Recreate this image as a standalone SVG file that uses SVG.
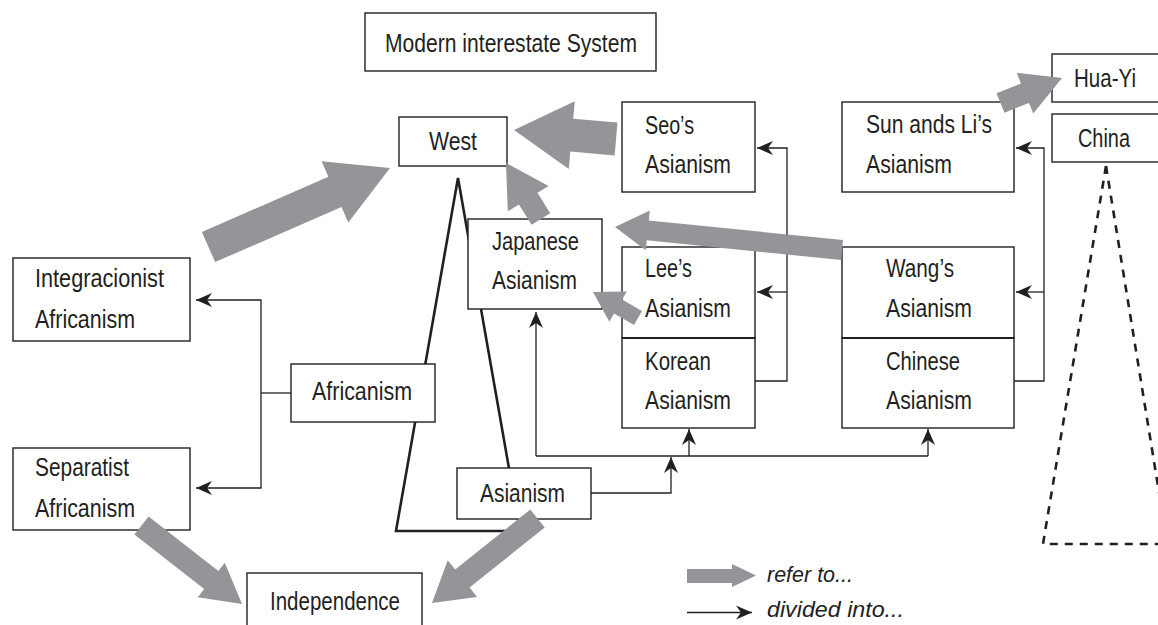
<svg xmlns="http://www.w3.org/2000/svg" width="1158" height="625" viewBox="0 0 1158 625">
  <style>
    .box { fill: #ffffff; stroke: #231f20; stroke-width: 1.4; }
    .t { font-family: "Liberation Sans Narrow", "Liberation Sans", Arial, sans-serif; font-size: 25px; fill: #231f20; }
    .lg { font-family: "Liberation Sans", Arial, sans-serif; font-style: italic; font-size: 22px; fill: #231f20; }
    .link { fill: none; stroke: #231f20; stroke-width: 1.3; }
    .ref { fill: #939598; stroke: none; }
    .tri { fill: none; stroke: #231f20; stroke-width: 2.6; stroke-linejoin: miter; }
    .dash { fill: none; stroke: #231f20; stroke-width: 2.6; stroke-dasharray: 8 7; }
  </style>
  <defs>
    <marker id="tip" viewBox="-17 -8 17 16" refX="0" refY="0" markerWidth="17" markerHeight="16" markerUnits="userSpaceOnUse" orient="auto">
      <path d="M0,0 L-16,-7 L-11,0 L-16,7 Z" fill="#231f20"/>
    </marker>
  </defs>

  <rect width="1158" height="625" fill="#ffffff"/>

  <!-- background shapes: solid triangle and dashed triangle -->
  <g id="shapes">
    <polygon class="tri" points="458,178 396,531 520,531"/>
    <path class="dash" d="M1106,166 L1043,544 L1175,544"/>
    <path class="dash" d="M1106,166 L1170,560"/>
  </g>

  <g id="node-modern">
    <rect class="box" x="365" y="13" width="291" height="58"/>
    <text class="t" x="385" y="52" textLength="252" lengthAdjust="spacingAndGlyphs">Modern interestate System</text>
  </g>
  <g id="node-west">
    <rect class="box" x="399" y="117" width="108" height="49"/>
    <text class="t" x="429" y="150" textLength="48" lengthAdjust="spacingAndGlyphs">West</text>
  </g>
  <g id="node-seo">
    <rect class="box" x="622" y="102" width="133" height="90"/>
    <text class="t" x="645" y="134" textLength="49" lengthAdjust="spacingAndGlyphs">Seo’s</text>
    <text class="t" x="645" y="173" textLength="86" lengthAdjust="spacingAndGlyphs">Asianism</text>
  </g>
  <g id="node-sunli">
    <rect class="box" x="842" y="102" width="172" height="90"/>
    <text class="t" x="866" y="133" textLength="126" lengthAdjust="spacingAndGlyphs">Sun ands Li’s</text>
    <text class="t" x="866" y="173" textLength="86" lengthAdjust="spacingAndGlyphs">Asianism</text>
  </g>
  <g id="node-huayi">
    <rect class="box" x="1052" y="54" width="130" height="48"/>
    <text class="t" x="1074" y="87" textLength="62" lengthAdjust="spacingAndGlyphs">Hua-Yi</text>
  </g>
  <g id="node-china">
    <rect class="box" x="1052" y="114" width="130" height="48"/>
    <text class="t" x="1078" y="147" textLength="52" lengthAdjust="spacingAndGlyphs">China</text>
  </g>
  <g id="node-japanese">
    <rect class="box" x="468" y="219" width="134" height="90"/>
    <text class="t" x="492" y="250" textLength="87" lengthAdjust="spacingAndGlyphs">Japanese</text>
    <text class="t" x="492" y="289" textLength="85" lengthAdjust="spacingAndGlyphs">Asianism</text>
  </g>
  <g id="node-lee">
    <rect class="box" x="622" y="247" width="133" height="91"/>
    <text class="t" x="645" y="277" textLength="47" lengthAdjust="spacingAndGlyphs">Lee’s</text>
    <text class="t" x="645" y="317" textLength="86" lengthAdjust="spacingAndGlyphs">Asianism</text>
  </g>
  <g id="node-korean">
    <rect class="box" x="622" y="338" width="133" height="90"/>
    <line x1="622" y1="338" x2="755" y2="338" stroke="#231f20" stroke-width="2.2"/>
    <text class="t" x="645" y="370" textLength="66" lengthAdjust="spacingAndGlyphs">Korean</text>
    <text class="t" x="645" y="409" textLength="86" lengthAdjust="spacingAndGlyphs">Asianism</text>
  </g>
  <g id="node-wang">
    <rect class="box" x="842" y="247" width="172" height="91"/>
    <text class="t" x="886" y="277" textLength="68" lengthAdjust="spacingAndGlyphs">Wang’s</text>
    <text class="t" x="886" y="317" textLength="86" lengthAdjust="spacingAndGlyphs">Asianism</text>
  </g>
  <g id="node-chinese">
    <rect class="box" x="842" y="338" width="172" height="90"/>
    <line x1="842" y1="338" x2="1014" y2="338" stroke="#231f20" stroke-width="2.2"/>
    <text class="t" x="886" y="370" textLength="74" lengthAdjust="spacingAndGlyphs">Chinese</text>
    <text class="t" x="886" y="409" textLength="86" lengthAdjust="spacingAndGlyphs">Asianism</text>
  </g>
  <g id="node-integracionist">
    <rect class="box" x="13" y="258" width="177" height="83"/>
    <text class="t" x="35" y="287" textLength="129" lengthAdjust="spacingAndGlyphs">Integracionist</text>
    <text class="t" x="35" y="328" textLength="100" lengthAdjust="spacingAndGlyphs">Africanism</text>
  </g>
  <g id="node-separatist">
    <rect class="box" x="13" y="448" width="177" height="82"/>
    <text class="t" x="35" y="476" textLength="94" lengthAdjust="spacingAndGlyphs">Separatist</text>
    <text class="t" x="35" y="517" textLength="100" lengthAdjust="spacingAndGlyphs">Africanism</text>
  </g>
  <g id="node-africanism">
    <rect class="box" x="291" y="364" width="144" height="58"/>
    <text class="t" x="312" y="400" textLength="100" lengthAdjust="spacingAndGlyphs">Africanism</text>
  </g>
  <g id="node-asianism">
    <rect class="box" x="457" y="468" width="134" height="51"/>
    <text class="t" x="480" y="502" textLength="85" lengthAdjust="spacingAndGlyphs">Asianism</text>
  </g>
  <g id="node-independence">
    <rect class="box" x="247" y="573" width="175" height="60"/>
    <text class="t" x="270" y="610" textLength="130" lengthAdjust="spacingAndGlyphs">Independence</text>
  </g>

  <g id="connectors">
    <!-- divided into... -->
    <path class="link" d="M291,393 H261"/>
    <path class="link" d="M261,393 V300 H196" marker-end="url(#tip)"/>
    <path class="link" d="M261,393 V488 H196" marker-end="url(#tip)"/>
    <path class="link" d="M591,493 H671 V457" marker-end="url(#tip)"/>
    <path class="link" d="M536,456 H928"/>
    <path class="link" d="M536,456 V312" marker-end="url(#tip)"/>
    <path class="link" d="M689,456 V429" marker-end="url(#tip)"/>
    <path class="link" d="M928,456 V429" marker-end="url(#tip)"/>
    <path class="link" d="M755,381 H787 V148 H757" marker-end="url(#tip)"/>
    <path class="link" d="M787,292 H757" marker-end="url(#tip)"/>
    <path class="link" d="M1014,381 H1044 V148 H1016" marker-end="url(#tip)"/>
    <path class="link" d="M1044,292 H1016" marker-end="url(#tip)"/>

    <!-- refer to... -->
    <polygon class="ref" points="201.9,231.9 328.4,176.8 321.6,161.2 390,168 348.3,222.6 341.5,207.0 215.1,262.1"/>
    <polygon class="ref" points="617.5,122.6 573.2,118.7 574.8,101.2 514,130 568.8,169.0 570.3,151.5 614.6,155.4"/>
    <polygon class="ref" points="550.2,213.2 537.5,192.8 548.6,185.9 506,163 507.8,211.3 518.9,204.4 531.6,224.8"/>
    <polygon class="ref" points="843.0,240.1 648.8,220.4 649.8,210.4 615,227 645.8,250.2 646.8,240.3 841.0,260.0"/>
    <polygon class="ref" points="642.0,311.1 622.1,299.6 626.9,291.4 593,292 609.3,321.7 614.1,313.4 634.0,324.9"/>
    <polygon class="ref" points="996.5,93.3 1021.0,83.5 1016.7,72.8 1062,78 1033.3,113.6 1029.0,102.9 1004.5,112.7"/>
    <polygon class="ref" points="148.6,516.4 218.4,570.9 224.8,562.7 242,604 197.7,597.3 204.2,589.1 134.4,534.6"/>
    <polygon class="ref" points="530.3,509.5 455.2,569.6 447.7,560.3 432,603 477.1,596.9 469.6,587.6 544.7,527.5"/>
  </g>

  <g id="legend">
    <polygon class="ref" points="687,569 732,569 732,564 756,575.5 732,587 732,583 687,583"/>
    <text class="lg" x="767" y="582" textLength="86" lengthAdjust="spacingAndGlyphs">refer to...</text>
    <path class="link" d="M687,612.5 H752" marker-end="url(#tip)"/>
    <text class="lg" x="767" y="617" textLength="137" lengthAdjust="spacingAndGlyphs">divided into...</text>
  </g>
</svg>
